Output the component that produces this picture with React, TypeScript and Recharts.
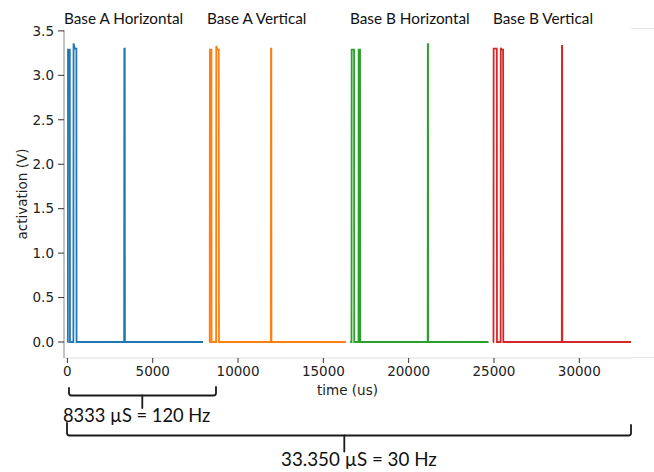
import { LineChart, Line, XAxis, YAxis } from 'recharts';

const W = 654;
const H = 472;

const timeTicks = [0, 5000, 10000, 15000, 20000, 25000, 30000];
const voltTicks = [0, 0.5, 1, 1.5, 2, 2.5, 3, 3.5];
const timeDomain = [-200, 33030];
const voltDomain = [-0.18, 3.51];

const sectionNames = ['Base A Horizontal', 'Base A Vertical', 'Base B Horizontal', 'Base B Vertical'];
const sectionColors = ['#1f77b4', '#ff7f0e', '#2ca02c', '#d62728'];

// time (us) and activation (V)
const baseAHorizontalT = [0, 25, 35, 140, 150, 350, 360, 420, 450, 525, 535, 3325, 3335, 3360, 3370, 7950];
const baseAHorizontalV = [0, 0, 3.29, 3.29, 0, 0, 3.36, 3.31, 3.3, 3.3, 0, 0, 3.3, 3.3, 0, 0];

const baseAVerticalT = [8300, 8340, 8350, 8440, 8450, 8715, 8725, 8770, 8800, 8870, 8880, 11925, 11932, 11950, 11957, 16320];
const baseAVerticalV = [0, 0, 3.29, 3.29, 0, 0, 3.33, 3.3, 3.29, 3.29, 0, 0, 3.3, 3.3, 0, 0];

const baseBHorizontalT = [16570, 16650, 16660, 16800, 16810, 17060, 17070, 17150, 17160, 21115, 21122, 21135, 21142, 24680];
const baseBHorizontalV = [0, 0, 3.29, 3.29, 0, 0, 3.29, 3.29, 0, 0, 3.35, 3.35, 0, 0];

const baseBVerticalT = [24940, 24970, 24980, 25165, 25175, 25390, 25400, 25440, 25535, 25545, 28975, 28982, 28995, 29002, 33030];
const baseBVerticalV = [0, 0, 3.3, 3.3, 0, 0, 3.31, 3.29, 3.29, 0, 0, 3.33, 3.33, 0, 0];

const toRows = (ts: number[], vs: number[]) => ts.map((t, i) => ({ t, v: vs[i] }));

const series = [
  toRows(baseAHorizontalT, baseAHorizontalV),
  toRows(baseAVerticalT, baseAVerticalV),
  toRows(baseBHorizontalT, baseBHorizontalV),
  toRows(baseBVerticalT, baseBVerticalV),
];

// where the section captions sit (left edge, px)
const captionLeft = [64, 207, 350, 493];

const tickFont = '"DejaVu Sans", sans-serif';
const noteFont = 'Lato, "Open Sans", sans-serif';

export default function App() {
  return (
    <div style={{ position: 'absolute', left: 0, top: 0, width: W, height: H, background: '#fff' }}>
      <LineChart width={W} height={H} margin={{ top: 30, right: 23, bottom: 74, left: 0 }}>
        <XAxis
          type="number"
          dataKey="t"
          domain={timeDomain}
          allowDataOverflow
          ticks={timeTicks}
          tickSize={5}
          tickMargin={3}
          height={40}
          stroke="#dcdcdc"
          tickLine={{ stroke: '#333' }}
          tick={{ fill: '#222', fontSize: 13.5, fontFamily: tickFont }}
          label={{
            value: 'time (us)',
            position: 'insideBottom',
            offset: 3,
            fill: '#222',
            fontSize: 13.5,
            fontFamily: tickFont,
          }}
        />
        <XAxis
          xAxisId="top"
          orientation="top"
          type="number"
          domain={timeDomain}
          height={0}
          tick={false}
          tickLine={false}
          stroke="#555"
        />
        <YAxis
          type="number"
          domain={voltDomain}
          allowDataOverflow
          ticks={voltTicks}
          tickFormatter={(v: number) => v.toFixed(1)}
          tickSize={6}
          tickMargin={4}
          width={64}
          stroke="#888"
          tickLine={{ stroke: '#333' }}
          tick={{ fill: '#222', fontSize: 13.5, fontFamily: tickFont }}
          label={{
            value: 'activation (V)',
            angle: -90,
            position: 'insideLeft',
            offset: 22,
            textAnchor: 'middle',
            fill: '#222',
            fontSize: 13.5,
            fontFamily: tickFont,
          }}
        />
        <YAxis
          yAxisId="right"
          orientation="right"
          type="number"
          domain={voltDomain}
          width={0}
          tick={false}
          tickLine={false}
          stroke="#333"
        />
        {series.map((rows, i) => (
          <Line
            key={sectionNames[i]}
            data={rows}
            dataKey="v"
            type="linear"
            stroke={sectionColors[i]}
            strokeWidth={1.8}
            dot={false}
            activeDot={false}
            isAnimationActive={false}
          />
        ))}
      </LineChart>

      {sectionNames.map((name, i) => (
        <div
          key={name}
          style={{
            position: 'absolute',
            left: captionLeft[i],
            top: 8,
            fontFamily: noteFont,
            fontSize: 15.3,
            lineHeight: '20px',
            color: '#111',
            whiteSpace: 'nowrap',
          }}
        >
          {name}
        </div>
      ))}

      {/* slide frame bits to the right of the plot */}
      <div style={{ position: 'absolute', left: 631, top: 28, width: 23, height: 1, background: '#e4e4e4' }} />
      <div style={{ position: 'absolute', left: 631, top: 357, width: 23, height: 1, background: '#e4e4e4' }} />

      {/* period braces */}
      <svg width={W} height={H} style={{ position: 'absolute', left: 0, top: 0, pointerEvents: 'none' }}>
        <g fill="none" stroke="#1a1a1a" strokeWidth={1.8} strokeLinecap="round" strokeLinejoin="round">
          <path d="M69 388 L69 393 Q69 395.5 71.5 395.5 L213.5 395.5 Q216 395.5 216 393 L216 387" />
          <path d="M142.3 395.5 L142.3 408" />
          <path d="M67 423 L67 433 Q67 435.5 69.5 435.5 L628.5 435.5 Q631 435.5 631 433 L631 425" />
          <path d="M344.3 435.5 L344.3 451.5" />
        </g>
      </svg>
      <div
        style={{
          position: 'absolute',
          left: 63,
          top: 403,
          fontFamily: noteFont,
          fontSize: 18.3,
          lineHeight: '24px',
          color: '#111',
          whiteSpace: 'nowrap',
        }}
      >
        8333 µS = 120 Hz
      </div>
      <div
        style={{
          position: 'absolute',
          left: 281,
          top: 447,
          fontFamily: noteFont,
          fontSize: 18.8,
          lineHeight: '24px',
          color: '#111',
          whiteSpace: 'nowrap',
        }}
      >
        33.350 µS = 30 Hz
      </div>
    </div>
  );
}
